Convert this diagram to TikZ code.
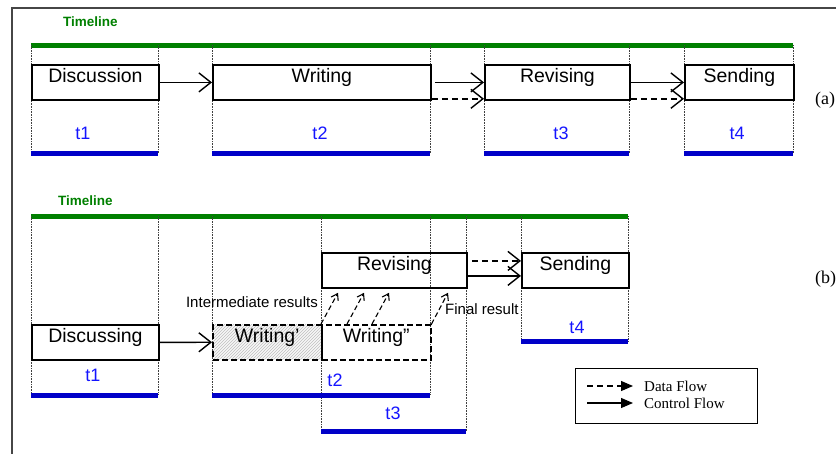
\documentclass[tikz,border=0pt]{standalone}
\usepackage{fontspec}
\setmainfont{Liberation Sans}
\newfontfamily\serifface{Liberation Serif}
\usetikzlibrary{arrows.meta,calc,patterns}
\definecolor{tlgreen}{RGB}{0,128,0}
\definecolor{barblue}{RGB}{0,0,200}
\definecolor{tblue}{RGB}{20,20,255}
\definecolor{framegray}{RGB}{70,70,70}
\begin{document}
\begin{tikzpicture}[x=1pt,y=-1pt,
  stagebox/.style={draw,line width=1.8pt,rectangle,inner sep=0pt,anchor=north west,
    minimum height=35pt,text height=14pt,text depth=13pt,
    font=\fontsize{19.5}{22}\selectfont},
  partbox/.style={stagebox,dash pattern=on 6pt off 3pt,line width=1.5pt},
  hatched/.style={preaction={fill=gray!6},pattern=north east lines,pattern color=gray!50},
  greenbar/.style={draw=tlgreen,line width=5pt},
  bluebar/.style={draw=barblue,line width=5pt},
  guide/.style={draw=black!75,densely dotted,line width=0.6pt},
  tlabel/.style={text=tblue,font=\fontsize{18}{20}\selectfont,inner sep=0pt},
  tltitle/.style={text=tlgreen,font=\fontsize{13.5}{15}\selectfont\bfseries,anchor=west,inner sep=0pt},
  ctrl/.style={line width=1.4pt,-{Straight Barb[length=12pt,width=19pt,line width=1.4pt]}},
  data/.style={line width=1.4pt,dash pattern=on 6pt off 4pt,-{Straight Barb[length=12pt,width=19pt,line width=1.4pt]}},
  datasmall/.style={line width=1.1pt,dash pattern=on 5pt off 3pt,-{Straight Barb[length=6pt,width=8pt,line width=1.1pt]}},
  note/.style={font=\fontsize{15}{17}\selectfont,inner sep=0pt},
  legtext/.style={font=\serifface\fontsize{15}{17}\selectfont,anchor=west,inner sep=0pt},
  partlabel/.style={font=\serifface\fontsize{18}{20}\selectfont,anchor=west,inner sep=0pt}]
\useasboundingbox (0,0) rectangle (836,453);

% outer frame (open to the right and bottom)
\draw[framegray,line width=1.8pt] (12,460) -- (12,8) -- (840,8);

% ---------- (a) sequential process ----------
\node[tltitle] (tla) at (63,22) {Timeline};
\draw[greenbar] (31,45) -- (793,45);
\foreach \x in {31,158,212,430,484,629,684,793}
  \draw[guide] (\x,45) -- (\x,153);

\node[stagebox,minimum width=127pt] (disc) at (31,64) {Discussion};
\node[stagebox,minimum width=218pt] (writ) at (212,64) {Writing};
\node[stagebox,minimum width=145pt] (rev) at (484,64) {Revising};
\node[stagebox,minimum width=109pt] (send) at (684,64) {Sending};

\draw[ctrl] (disc.east) -- (writ.west);
\draw[ctrl] ([xshift=3pt]writ.east) -- (rev.west);
\draw[data] ([yshift=2pt]writ.south east) -- ([yshift=2pt]rev.south west);
\draw[ctrl] (rev.east) -- (send.west);
\draw[data] ([yshift=2pt]rev.south east) -- ([yshift=2pt]send.south west);

\node[tlabel] (ta1) at (83,133) {t1};
\node[tlabel] (ta2) at (320,133) {t2};
\node[tlabel] (ta3) at (561,133) {t3};
\node[tlabel] (ta4) at (737,133) {t4};
\draw[bluebar] (31,153) -- (158,153);
\draw[bluebar] (212,153) -- (430,153);
\draw[bluebar] (484,153) -- (629,153);
\draw[bluebar] (684,153) -- (793,153);

\node[partlabel] (pa) at (815,100) {(a)};

% ---------- (b) overlapping process ----------
\node[tltitle] (tlb) at (58,201) {Timeline};
\draw[greenbar] (31,216) -- (628,216);
\foreach \x/\y in {31/395,158/395,212/395,321/431,430/395,466/431,521/341,628/341}
  \draw[guide] (\x,216) -- (\x,\y);

\node[stagebox,minimum width=127pt] (discb) at (31,324) {Discussing};
\node[partbox,hatched,minimum width=109pt] (w1) at (212,324) {Writing’};
\node[partbox,minimum width=109pt] (w2) at (321,324) {Writing”};
\node[stagebox,minimum width=145pt] (revb) at (321,252) {Revising};
\node[stagebox,minimum width=107pt] (sendb) at (521,252) {Sending};

\draw[ctrl] (discb.east) -- (w1.west);
\draw[data] ([yshift=9.5pt,xshift=4pt]revb.east) -- ([yshift=9.5pt]sendb.west);
\draw[ctrl] ([yshift=-5.5pt]revb.east) -- ([yshift=-5.5pt]sendb.west);

\draw[datasmall] (w2.north west) -- ($(revb.south west)+(17,4)$);
\draw[datasmall] ($(w2.north west)+(26,0)$) -- ($(revb.south west)+(43,4)$);
\draw[datasmall] ($(w2.north west)+(51,0)$) -- ($(revb.south west)+(68,4)$);
\draw[datasmall] (w2.north east) -- ($(revb.south west)+(127,4)$);

\node[note,anchor=east] (inter) at (318,302) {Intermediate results};
\node[note,anchor=west] (final) at (445,309) {Final result};

\node[tlabel] (tb1) at (93,375) {t1};
\node[tlabel] (tb2) at (335,380) {t2};
\node[tlabel] (tb3) at (393,413) {t3};
\node[tlabel] (tb4) at (577,327) {t4};
\draw[bluebar] (31,395) -- (158,395);
\draw[bluebar] (212,395) -- (430,395);
\draw[bluebar] (321,431) -- (466,431);
\draw[bluebar] (521,341) -- (628,341);

\node[partlabel] (pb) at (815,279) {(b)};

% ---------- legend ----------
\node[draw,line width=1.4pt,rectangle,anchor=north west,minimum width=182pt,minimum height=55pt,inner sep=0pt] (legend) at (575,368) {};
\coordinate (ld1) at (587,386);
\coordinate (ld2) at (633,386);
\coordinate (lc1) at (587,403);
\coordinate (lc2) at (633,403);
\draw[line width=1.1pt,dash pattern=on 6pt off 4pt,-{Triangle[length=12pt,width=10pt]}] (ld1) -- (ld2);
\draw[line width=1.1pt,-{Triangle[length=12pt,width=10pt]}] (lc1) -- (lc2);
\node[legtext] (ldt) at (644,386) {Data Flow};
\node[legtext] (lct) at (644,403) {Control Flow};
\end{tikzpicture}
\end{document}
